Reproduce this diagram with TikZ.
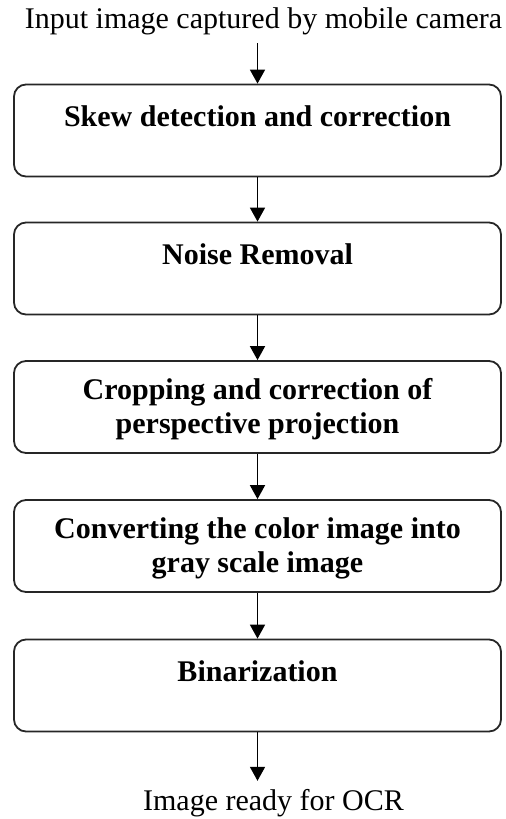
\documentclass[tikz,border=0pt]{standalone}
\usepackage{fontspec}
\setmainfont{Liberation Serif}
\usetikzlibrary{arrows.meta,positioning}
\tikzset{
  stepbox/.style={draw=black!85, line width=0.9pt, rounded corners=6pt, align=center, minimum width=243.5pt, minimum height=46pt, inner sep=3pt, font=\fontsize{15}{17}\selectfont\bfseries},
  plaintext/.style={align=center, inner sep=4pt, font=\fontsize{15}{17}\selectfont},
  arrow/.style={-{Triangle[length=7pt,width=7.5pt]}, line width=0.9pt}
}
\begin{document}
\begin{tikzpicture}[x=0.5pt,y=-0.5pt]
\useasboundingbox (0,0) rectangle (505,819);
\node[plaintext] (input) at (263.5,21) {Input image captured by mobile camera};
\node[stepbox] (skew) at (257.5,130.5) {\rule{0pt}{13pt}Skew detection and correction\\\mbox{}};
\node[stepbox] (noise) at (257.5,268.5) {\rule{0pt}{13pt}Noise Removal\\\mbox{}};
\node[stepbox] (crop) at (257.5,407) {\rule{0pt}{13pt}Cropping and correction of\\perspective projection};
\node[stepbox] (gray) at (257.5,546) {\rule{0pt}{13pt}Converting the color image into\\gray scale image};
\node[stepbox] (binar) at (257.5,685.5) {\rule{0pt}{13pt}Binarization\\\mbox{}};
\node[plaintext] (ocr) at (273.5,803) {Image ready for OCR};
% flow
\draw[arrow] (skew.north |- input.south) -- (skew);
\draw[arrow] (skew) -- (noise);
\draw[arrow] (noise) -- (crop);
\draw[arrow] (crop) -- (gray);
\draw[arrow] (gray) -- (binar);
\draw[arrow] (binar) -- (binar.south |- ocr.north);
\end{tikzpicture}
\end{document}
